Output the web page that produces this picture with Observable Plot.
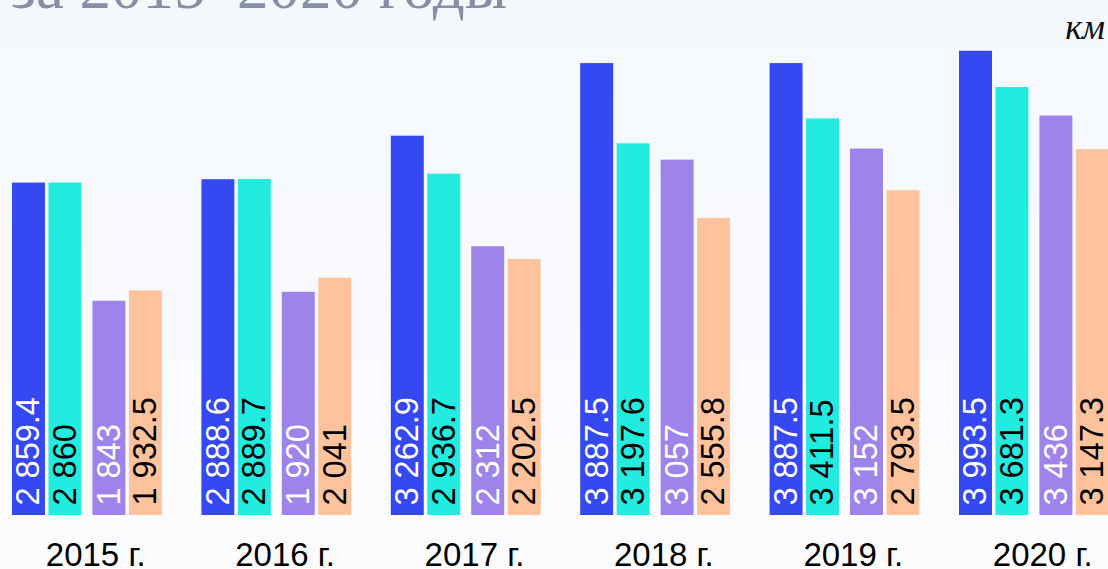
<!DOCTYPE html>
<html>
<head>
<meta charset="utf-8">
<script src="https://cdn.jsdelivr.net/npm/d3@7"></script>
<script src="https://cdn.jsdelivr.net/npm/@observablehq/plot@0.6"></script>
<style>
  html, body { margin: 0; padding: 0; }
  body { width: 1108px; height: 569px; overflow: hidden; background: linear-gradient(to bottom, #f4f8fc 0%, #f9fafd 60%, #fbfbfd 100%); }
  #wrap { position: relative; width: 1108px; height: 569px; }
  #title { position: absolute; left: 11px; top: -44px; font-family: "Liberation Serif", "DejaVu Serif", serif; font-size: 63px; line-height: 63px; color: #878ea6; white-space: nowrap; margin: 0; font-weight: normal; }
  #unit { position: absolute; right: 3px; top: 9px; font-family: "Liberation Serif", "DejaVu Serif", serif; font-style: italic; font-size: 36px; line-height: 36px; color: #111; }
  #chart { position: absolute; left: 0; top: 0; }
  svg { background: transparent !important; }
</style>
</head>
<body>
<div id="wrap">
  <h2 id="title">за 2015–2020 годы</h2>
  <div id="unit">км</div>
  <div id="chart"></div>
</div>
<script>
const years = ["2015", "2016", "2017", "2018", "2019", "2020"];
const seriesNames = ["Серия 1", "Серия 2", "Серия 3", "Серия 4"];
const series1 = [2859.4, 2888.6, 3262.9, 3887.5, 3887.5, 3993.5];
const series2 = [2860, 2889.7, 2936.7, 3197.6, 3411.5, 3681.3];
const series3 = [1843, 1920, 2312, 3057, 3152, 3436];
const series4 = [1932.5, 2041, 2202.5, 2555.8, 2793.5, 3147.3];
const colors = ["#3548f2", "#22ebdf", "#9e84ea", "#fec29c"];
const labelColors = ["#ffffff", "#000000", "#ffffff", "#000000"];

const allSeries = [series1, series2, series3, series4];
const rows = [];
years.forEach((yr, i) => {
  allSeries.forEach((s, j) => {
    rows.push({year: yr, series: seriesNames[j], value: s[i], idx: j});
  });
});
const locale = d3.formatLocale({decimal: ".", thousands: " ", grouping: [3], currency: ["", ""]});
const fmt = locale.format(",.1~f");

const firstPair = rows.filter(d => d.idx < 2);
const secondPair = rows.filter(d => d.idx >= 2);

const labelFont = "'Liberation Sans', Arial, sans-serif";

const chart = Plot.plot({
  width: 1108,
  height: 569,
  marginLeft: 12,
  marginRight: 6.65,
  marginTop: 50,
  marginBottom: 54,
  style: {background: "transparent", fontFamily: labelFont},
  fx: {domain: years, paddingInner: 0.2484, paddingOuter: 0, round: false, label: null},
  x: {domain: seriesNames, paddingInner: 0.0959, paddingOuter: 0, round: false, axis: null},
  y: {domain: [0, 4000], axis: null},
  color: {domain: seriesNames, range: colors},
  marks: [
    Plot.barY(firstPair, {fx: "year", x: "series", y: "value", fill: "series"}),
    Plot.barY(secondPair, {fx: "year", x: "series", y: "value", fill: "series", dx: 7.5}),
    Plot.text(firstPair, {fx: "year", x: "series", y: 0, text: d => fmt(d.value), rotate: -90, textAnchor: "start", lineAnchor: "middle", dy: -10, fontSize: 32.5, fill: d => labelColors[d.idx]}),
    Plot.text(secondPair, {fx: "year", x: "series", y: 0, text: d => fmt(d.value), rotate: -90, textAnchor: "start", lineAnchor: "middle", dy: -10, dx: 7.5, fontSize: 32.5, fill: d => labelColors[d.idx]}),
    Plot.axisFx({anchor: "bottom", tickSize: 0, tickPadding: 27, fontSize: 33, dx: 12, tickFormat: d => d + " г.", label: null, fill: "#000"})
  ]
});
document.getElementById("chart").appendChild(chart);
</script>
</body>
</html>
